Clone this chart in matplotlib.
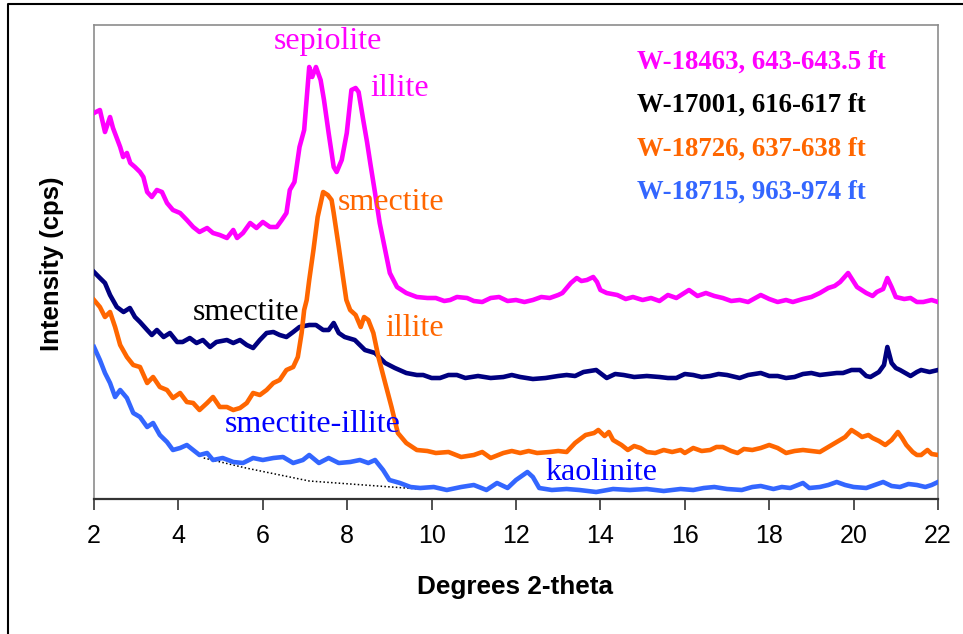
import numpy as np
import matplotlib
matplotlib.use("Agg")
import matplotlib.pyplot as plt
from matplotlib.lines import Line2D

# XRD patterns, intensities in arbitrary (offset) cps
tt_18463 = [2.0, 2.14, 2.26, 2.38, 2.45, 2.62, 2.69, 2.78, 2.86, 2.97, 3.09, 3.17, 3.26, 3.37, 3.49, 3.61,
            3.73, 3.87, 4.04, 4.2, 4.35, 4.5, 4.68, 4.82, 4.98, 5.15, 5.3, 5.39, 5.53, 5.7, 5.85, 6.0,
            6.17, 6.33, 6.45, 6.56, 6.64, 6.75, 6.87, 6.98, 7.1, 7.17, 7.26, 7.37, 7.45, 7.56, 7.68, 7.75,
            7.87, 7.99, 8.1, 8.2, 8.27, 8.38, 8.47, 8.55, 8.66, 8.77, 8.9, 9.01, 9.18, 9.4, 9.65, 9.9,
            10.1, 10.3, 10.44, 10.6, 10.84, 11.0, 11.2, 11.4, 11.6, 11.8, 12.0, 12.2, 12.4, 12.6, 12.8, 13.0,
            13.1, 13.3, 13.44, 13.55, 13.68, 13.83, 13.92, 14.0, 14.15, 14.4, 14.6, 14.77, 15.0, 15.2, 15.4, 15.6,
            15.8, 16.1, 16.3, 16.5, 16.7, 16.9, 17.1, 17.3, 17.5, 17.8, 18.0, 18.2, 18.4, 18.56, 18.8, 19.0,
            19.2, 19.4, 19.55, 19.68, 19.87, 20.08, 20.3, 20.45, 20.55, 20.7, 20.8, 20.9, 21.0, 21.2, 21.35, 21.5,
            21.65, 21.85, 22.0]
i_18463 = [386, 389, 367, 382, 371, 352, 342, 346, 336, 332, 327, 322, 307, 302, 309, 307,
           296, 289, 286, 279, 272, 267, 271, 266, 264, 261, 269, 261, 266, 276, 271, 277,
           272, 272, 279, 286, 309, 317, 352, 369, 432, 422, 432, 419, 399, 366, 332, 327,
           339, 366, 409, 411, 407, 379, 357, 335, 306, 276, 249, 226, 212, 206, 202, 201,
           201, 198, 199, 202, 201, 198, 197, 201, 202, 198, 199, 197, 199, 202, 201, 204,
           206, 216, 221, 218, 219, 222, 217, 209, 206, 204, 200, 202, 199, 201, 198, 204,
           201, 209, 203, 206, 203, 201, 198, 199, 197, 204, 200, 197, 199, 197, 200, 202,
           206, 211, 213, 217, 226, 212, 206, 203, 207, 210, 221, 212, 202, 200, 201, 197,
           197, 199, 197]

tt_17001 = [2.0, 2.14, 2.26, 2.38, 2.54, 2.7, 2.85, 2.97, 3.09, 3.26, 3.37, 3.49, 3.65, 3.8, 3.97, 4.1,
            4.27, 4.43, 4.58, 4.75, 4.9, 5.15, 5.3, 5.46, 5.62, 5.77, 5.93, 6.09, 6.25, 6.4, 6.56, 6.72,
            6.87, 7.1, 7.26, 7.43, 7.56, 7.68, 7.8, 7.94, 8.18, 8.42, 8.66, 8.9, 9.13, 9.4, 9.65, 9.8,
            10.0, 10.2, 10.4, 10.6, 10.8, 11.1, 11.4, 11.7, 11.9, 12.1, 12.4, 12.7, 13.0, 13.2, 13.4, 13.6,
            13.9, 14.15, 14.35, 14.55, 14.8, 15.1, 15.4, 15.6, 15.8, 16.0, 16.2, 16.4, 16.6, 16.8, 17.0, 17.3,
            17.5, 17.8, 18.0, 18.2, 18.4, 18.6, 18.8, 19.0, 19.2, 19.4, 19.6, 19.75, 19.95, 20.15, 20.3, 20.4,
            20.6, 20.72, 20.8, 20.9, 21.0, 21.1, 21.35, 21.5, 21.6, 21.8, 22.0]
i_17001 = [227, 221, 216, 204, 192, 187, 191, 182, 177, 169, 164, 169, 162, 166, 157, 157,
           161, 156, 159, 152, 157, 159, 156, 159, 154, 151, 159, 166, 167, 164, 162, 167,
           172, 174, 174, 169, 169, 176, 166, 162, 159, 149, 146, 136, 131, 126, 124, 124,
           121, 121, 124, 124, 121, 123, 121, 122, 124, 122, 120, 121, 123, 124, 123, 127,
           129, 121, 125, 124, 122, 123, 122, 121, 121, 125, 124, 122, 123, 125, 124, 121,
           124, 126, 123, 123, 121, 122, 125, 126, 124, 125, 126, 126, 129, 129, 123, 122,
           127, 134, 152, 136, 131, 129, 123, 127, 129, 127, 129]

tt_18726 = [2.0, 2.14, 2.26, 2.38, 2.5, 2.62, 2.78, 2.93, 3.09, 3.26, 3.4, 3.56, 3.73, 3.87, 4.04, 4.2,
            4.35, 4.5, 4.68, 4.82, 4.98, 5.15, 5.3, 5.46, 5.62, 5.77, 5.93, 6.09, 6.25, 6.4, 6.56, 6.72,
            6.83, 6.92, 6.98, 7.04, 7.1, 7.2, 7.3, 7.43, 7.54, 7.63, 7.68, 7.8, 7.9, 7.98, 8.07, 8.2,
            8.32, 8.4, 8.5, 8.62, 8.74, 8.9, 9.05, 9.2, 9.4, 9.65, 9.9, 10.1, 10.4, 10.7, 11.0, 11.2,
            11.4, 11.7, 11.9, 12.1, 12.3, 12.5, 12.8, 13.0, 13.2, 13.4, 13.65, 13.85, 13.95, 14.1, 14.2, 14.3,
            14.5, 14.65, 14.8, 14.95, 15.1, 15.3, 15.5, 15.7, 15.9, 16.0, 16.2, 16.4, 16.6, 16.75, 16.9, 17.1,
            17.25, 17.4, 17.6, 17.8, 18.0, 18.2, 18.4, 18.6, 18.8, 19.0, 19.2, 19.4, 19.6, 19.8, 19.95, 20.1,
            20.2, 20.35, 20.45, 20.6, 20.75, 20.9, 21.05, 21.15, 21.25, 21.4, 21.5, 21.6, 21.75, 21.85, 22.0]
i_18726 = [199, 192, 182, 187, 172, 154, 142, 134, 132, 116, 122, 112, 109, 101, 106, 97,
           96, 89, 96, 102, 92, 92, 89, 91, 96, 106, 104, 109, 116, 119, 129, 132,
           142, 166, 189, 199, 219, 249, 282, 307, 304, 299, 286, 252, 222, 199, 189, 184,
           172, 182, 179, 166, 142, 116, 92, 66, 56, 49, 48, 46, 47, 42, 44, 47,
           41, 46, 48, 46, 48, 46, 47, 48, 47, 56, 64, 66, 69, 63, 67, 59,
           54, 49, 53, 51, 47, 46, 49, 47, 49, 46, 51, 48, 49, 52, 52, 48,
           46, 50, 49, 51, 54, 51, 46, 48, 49, 48, 47, 52, 57, 62, 69, 65,
           62, 64, 61, 58, 54, 59, 67, 61, 54, 47, 44, 44, 49, 45, 44]

tt_18715 = [2.0, 2.14, 2.26, 2.38, 2.5, 2.62, 2.78, 2.93, 3.09, 3.26, 3.4, 3.56, 3.73, 3.87, 4.04, 4.2,
            4.35, 4.5, 4.68, 4.82, 5.05, 5.3, 5.53, 5.77, 6.0, 6.25, 6.48, 6.72, 6.95, 7.1, 7.33, 7.56,
            7.8, 8.07, 8.3, 8.5, 8.66, 8.85, 9.0, 9.25, 9.5, 9.73, 10.05, 10.36, 10.7, 11.0, 11.3, 11.55,
            11.8, 12.0, 12.27, 12.4, 12.55, 12.85, 13.2, 13.5, 13.9, 14.3, 14.7, 15.1, 15.5, 15.9, 16.2, 16.45,
            16.7, 17.0, 17.35, 17.6, 17.8, 18.1, 18.3, 18.5, 18.8, 18.95, 19.2, 19.4, 19.6, 19.8, 20.0, 20.3,
            20.5, 20.7, 20.9, 21.1, 21.3, 21.5, 21.7, 21.85, 22.0]
i_18715 = [152, 139, 126, 116, 102, 109, 101, 86, 82, 72, 76, 64, 57, 49, 51, 54,
           49, 44, 46, 39, 41, 37, 36, 41, 39, 41, 42, 36, 39, 44, 36, 41,
           36, 37, 39, 36, 39, 29, 19, 16, 12, 11, 12, 9, 12, 14, 9, 16,
           11, 19, 27, 22, 11, 9, 10, 9, 7, 10, 9, 10, 8, 10, 9, 11,
           12, 10, 9, 12, 13, 10, 12, 11, 16, 11, 12, 14, 17, 14, 12, 11,
           14, 17, 13, 12, 15, 14, 12, 14, 17]

# background line under the smectite-illite hump
tt_bg = [4.6, 5.6, 7.1, 9.7]
i_bg = [41, 31, 18, 10]

samples = ["W-18463, 643-643.5 ft", "W-17001, 616-617 ft", "W-18726, 637-638 ft", "W-18715, 963-974 ft"]
line_colors = ["#ff00ff", "#000080", "#ff6600", "#3366ff"]
text_colors = ["#ff00ff", "#000000", "#ff6600", "#3366ff"]

W, H = 963, 634
fig = plt.figure(figsize=(W / 100, H / 100), dpi=100)
ax = fig.add_axes([94 / W, 1 - 499 / H, (938 - 94) / W, (499 - 25) / H])

for tt, inten, c in zip([tt_18463, tt_17001, tt_18726, tt_18715],
                        [i_18463, i_17001, i_18726, i_18715], line_colors):
    ax.plot(tt, inten, color=c, lw=3.3, solid_joinstyle="round", zorder=3)
ax.plot(tt_bg, i_bg, color="black", lw=1.1, ls=(0, (1, 1.5)), zorder=2)

ax.set_xlim(2, 22)
ax.set_ylim(0, 474)
ax.set_xticks(range(2, 23, 2))
ax.set_yticks([])
ax.tick_params(axis="x", direction="out", length=8, width=1.2, color="#333333", pad=10,
               labelsize=18)
for lab in ax.get_xticklabels():
    lab.set_fontfamily("Liberation Sans")
for s in ["left", "top", "right"]:
    ax.spines[s].set_color("#8c8c8c")
    ax.spines[s].set_linewidth(1.2)
ax.spines["bottom"].set_color("#333333")
ax.spines["bottom"].set_linewidth(1.6)

serif = "Liberation Serif"
fs = 23
# peak labels
ax.text(7.55, 457, "sepiolite", color="#ff00ff", fontsize=fs, family=serif, ha="center", va="center")
ax.text(8.54, 411, "illite", color="#ff00ff", fontsize=fs, family=serif, ha="left", va="center")
ax.text(7.78, 297, "smectite", color="#ff6600", fontsize=fs, family=serif, ha="left", va="center")
ax.text(4.35, 186, "smectite", color="#000000", fontsize=fs, family=serif, ha="left", va="center")
ax.text(8.9, 171, "illite", color="#ff6600", fontsize=fs, family=serif, ha="left", va="center")
ax.text(5.1, 74, "smectite-illite", color="#0000ff", fontsize=fs, family=serif, ha="left", va="center")
ax.text(12.69, 27, "kaolinite", color="#0000ff", fontsize=fs, family=serif, ha="left", va="center")

# sample legend as coloured text
for k, (name, c) in enumerate(zip(samples, text_colors)):
    fig.text(637 / W, 1 - (62 + 43.5 * k) / H, name, color=c, fontsize=19.3, family=serif,
             fontweight="bold", ha="left", va="center")

fig.text(515 / W, 1 - 587 / H, "Degrees 2-theta", fontsize=18.8, fontweight="bold",
         family="Liberation Sans", ha="center", va="center")
fig.text(52 / W, 1 - 264 / H, "Intensity (cps)", fontsize=18.5, fontweight="bold",
         family="Liberation Sans", ha="center", va="center", rotation=90)

# outer frame (top and left edges)
fig.add_artist(Line2D([8 / W, 8 / W, 1], [0, 1 - 4 / H, 1 - 4 / H], color="black", lw=1.5,
                      transform=fig.transFigure))

fig.savefig("out.png", dpi=100)
